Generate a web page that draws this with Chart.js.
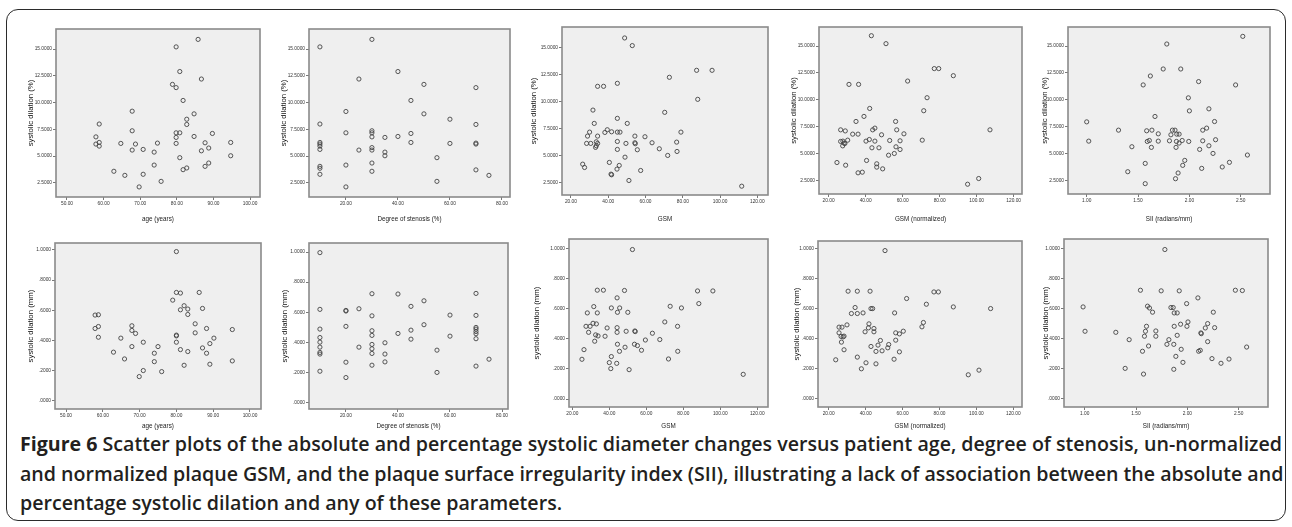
<!DOCTYPE html>
<html><head><meta charset="utf-8">
<script src="https://cdn.jsdelivr.net/npm/chart.js@4.4.1/dist/chart.umd.min.js"></script>
<style>
html,body{margin:0;padding:0;background:#fff;}
#wrap{position:relative;width:1292px;height:527px;overflow:hidden;background:#fff;}
#frame{position:absolute;left:6px;top:9px;width:1280px;height:512px;border:1.5px solid #2b2b2b;border-radius:12px;box-sizing:border-box;}
canvas{position:absolute;}
.cap{position:absolute;left:20px;white-space:nowrap;font-family:"Open Sans","Liberation Sans",sans-serif;font-weight:600;font-size:19px;line-height:22px;color:#231f20;transform-origin:0 50%;}
.cap b{font-weight:700;}
</style></head><body>
<div id="wrap">
<div id="frame"></div>
<div class="cap" id="c1" style="top:433px"><b>Figure 6</b> Scatter plots of the absolute and percentage systolic diameter changes versus patient age, degree of stenosis, un-normalized</div>
<div class="cap" id="c2" style="top:463px">and normalized plaque GSM, and the plaque surface irregularity index (SII), illustrating a lack of association between the absolute and</div>
<div class="cap" id="c3" style="top:492px">percentage systolic dilation and any of these parameters.</div>
</div>
<script>
// ---- tick values ----
const AGE_TICKS = [50,60,70,80,90,100];
const STEN_TICKS = [20,40,60,80];
const GSM_TICKS = [20,40,60,80,100,120];
const SII_TICKS = [1.0,1.5,2.0,2.5];
const PCT_TICKS = [2.5,5,7.5,10,12.5,15];
const MM_TICKS = [0,0.2,0.4,0.6,0.8,1.0];

// ---- axis titles ----
const X_TITLES = ['age (years)','Degree of stenosis (%)','GSM','GSM (normalized)','SII (radians/mm)'];
const Y_TITLES = ['systolic dilation (%)','systolic dilation (mm)'];

// ---- data: [x, y] ----
const agePct = [[79.8,15.2],[85.8,15.9],[80.8,12.9],[86.7,12.2],[78.8,11.7],[79.8,11.4],[81.7,10.2],[67.8,9.2],[84.7,8.95],[82.7,8.45],[58.8,8.0],[82.7,7.96],[67.8,7.37],[79.8,7.18],[80.8,7.18],[89.7,7.12],[57.9,6.8],[79.8,6.75],[84.7,6.84],[57.9,6.13],[58.8,6.28],[58.8,5.94],[64.7,6.19],[68.7,6.13],[74.7,6.22],[79.8,6.19],[87.7,6.25],[94.7,6.28],[67.8,5.57],[70.8,5.63],[73.8,5.38],[86.7,5.5],[88.7,5.76],[80.8,4.86],[94.7,5.04],[73.8,4.17],[87.7,4.05],[88.7,4.36],[82.7,3.9],[81.7,3.74],[62.8,3.59],[65.8,3.21],[70.8,3.31],[75.7,2.65],[69.7,2.13]];
const stenPct = [[10,15.2],[30,15.9],[40,12.9],[25,12.2],[50,11.7],[70,11.4],[45,10.2],[20,9.17],[50,8.95],[60,8.45],[10,8.0],[70,7.96],[30,7.37],[20,7.18],[30,7.18],[45,7.12],[30,6.8],[40,6.84],[35,6.75],[10,6.28],[10,6.13],[10,5.94],[45,6.28],[60,6.19],[70,6.22],[70,6.13],[30,5.8],[30,5.57],[10,5.63],[25,5.57],[35,5.38],[35,5.04],[55,4.86],[30,4.36],[20,4.17],[10,4.05],[10,3.87],[70,3.72],[30,3.59],[10,3.31],[75,3.21],[55,2.65],[20,2.13]];
const gsmPct = [[48.8,15.93],[52.9,15.22],[87.4,12.92],[95.7,12.92],[72.8,12.27],[44.9,11.71],[34.3,11.43],[37.5,11.43],[88,10.22],[70.3,9.01],[31.8,9.22],[44.9,8.45],[32.5,7.98],[50.2,7.98],[30,7.17],[39.5,7.39],[38.2,7.14],[41.8,7.2],[44.9,7.17],[46.3,7.17],[79,7.17],[28.9,6.8],[34.3,6.8],[54.3,6.8],[59.7,6.74],[28.4,6.12],[30.6,6.12],[33.6,6.27],[34.3,6.12],[33.6,5.9],[33.2,5.75],[44.9,6.3],[49.5,6.12],[54.3,6.18],[54.5,6.09],[63.5,6.18],[76.7,6.24],[44.9,5.56],[55.6,5.53],[67.4,5.62],[76.9,5.37],[49,4.84],[71.9,5.0],[40.6,4.35],[26.3,4.19],[27.3,3.88],[45.9,4.07],[44.7,3.73],[57.4,3.6],[41.5,3.26],[41.8,3.2],[51.1,2.67],[111.6,2.14]];
const gsmnPct = [[43.1,15.96],[51,15.22],[77.1,12.9],[79.5,12.9],[87.4,12.24],[62.7,11.74],[31,11.43],[36.2,11.43],[73.2,10.19],[71.4,8.98],[42.2,9.19],[39.1,8.45],[34.8,7.98],[56.2,7.98],[26.5,7.2],[29,7.1],[43.8,7.2],[45,7.36],[56.8,7.2],[107.2,7.2],[33,6.8],[35.9,6.8],[48.6,6.74],[60.7,6.83],[26.5,6.12],[27.7,6.15],[28.3,5.96],[27.6,5.71],[28.8,5.93],[30.3,6.24],[40.2,6.15],[42,6.3],[45,6.15],[53,6.21],[58.6,6.18],[70.6,6.24],[43.4,5.53],[47.2,5.53],[56.4,5.62],[58.6,5.37],[52.4,4.84],[55.5,5.0],[24.5,4.16],[29.2,3.91],[40.5,4.35],[46,4.04],[46,3.73],[49.2,3.57],[35.9,3.2],[38.2,3.26],[95.1,2.14],[101.1,2.67]];
const siiPct = [[2.52,15.9],[1.78,15.19],[1.745,12.87],[1.916,12.87],[1.62,12.22],[1.55,11.39],[2.09,11.7],[2.45,11.39],[1.99,10.19],[2.0,8.98],[2.19,9.17],[1.665,8.46],[1.0,7.96],[2.245,7.99],[1.31,7.19],[1.584,7.13],[1.635,7.19],[1.835,7.19],[1.86,7.19],[2.168,7.38],[2.13,7.19],[1.697,6.85],[1.82,6.76],[1.877,6.82],[1.9,6.82],[1.02,6.17],[1.59,6.14],[1.61,6.23],[1.697,6.17],[1.806,6.2],[1.874,6.14],[1.9,5.99],[1.93,6.23],[1.994,6.14],[2.13,6.2],[2.255,6.3],[1.44,5.65],[1.63,5.59],[1.87,5.59],[2.19,5.74],[2.1,5.4],[2.23,5.03],[2.565,4.88],[1.57,4.1],[1.955,4.38],[1.935,3.92],[2.39,4.2],[2.32,3.77],[2.12,3.64],[1.4,3.33],[1.89,3.21],[1.865,2.68],[1.57,2.22]];

const ageMm = [[80,0.989],[80,0.718],[81.1,0.714],[86.2,0.718],[79,0.667],[82.1,0.63],[81.1,0.603],[83.1,0.608],[87.1,0.612],[57.9,0.568],[58.8,0.57],[83.1,0.572],[85.1,0.51],[67.9,0.497],[58.8,0.492],[57.9,0.479],[88.2,0.479],[67.9,0.466],[68.9,0.446],[85.1,0.45],[95.2,0.472],[80,0.435],[80,0.43],[58.8,0.421],[64.9,0.415],[90.2,0.415],[71,0.388],[80,0.388],[89.1,0.379],[67.9,0.359],[75,0.359],[87.1,0.35],[81.1,0.339],[62.9,0.322],[74,0.315],[83.1,0.326],[88.2,0.315],[65.9,0.277],[74,0.259],[95.2,0.264],[82.1,0.235],[89.1,0.242],[71,0.2],[76,0.193],[69.9,0.16]];
const stenMm = [[10,0.996],[30,0.723],[40,0.721],[70,0.725],[50,0.676],[45,0.639],[25,0.623],[10,0.619],[20,0.612],[20,0.608],[30,0.576],[60,0.581],[70,0.579],[50,0.517],[20,0.506],[70,0.499],[10,0.488],[30,0.477],[45,0.481],[70,0.488],[70,0.472],[30,0.446],[40,0.459],[70,0.457],[60,0.441],[10,0.432],[45,0.421],[70,0.424],[10,0.401],[35,0.397],[30,0.386],[10,0.368],[25,0.368],[30,0.357],[55,0.348],[10,0.333],[10,0.322],[30,0.326],[35,0.322],[20,0.268],[35,0.27],[75,0.288],[30,0.248],[70,0.242],[10,0.208],[55,0.2],[20,0.166]];
const gsmMm = [[52.5,0.993],[33.5,0.723],[36.8,0.723],[48.2,0.721],[87.7,0.718],[96,0.718],[44.2,0.672],[88.4,0.634],[31.6,0.614],[72.9,0.616],[41.1,0.605],[45.6,0.605],[79,0.605],[28.1,0.572],[33.5,0.572],[44.4,0.576],[50,0.576],[70,0.512],[31.2,0.503],[33,0.499],[27.4,0.483],[29.6,0.483],[76.9,0.483],[38.8,0.472],[44.2,0.474],[28.8,0.443],[44.2,0.443],[49.1,0.45],[53.8,0.452],[54,0.448],[63.3,0.437],[32.6,0.426],[33.9,0.419],[37.7,0.417],[32.1,0.384],[59.5,0.392],[67.3,0.395],[44.4,0.364],[53.6,0.364],[55.2,0.355],[48.5,0.344],[26.3,0.328],[57.4,0.324],[45.5,0.317],[77,0.317],[41.1,0.282],[25.2,0.264],[72,0.266],[40,0.242],[44,0.237],[40.8,0.202],[50.7,0.195],[112.4,0.164]];
const gsmnMm = [[50.5,0.989],[30.5,0.718],[35.5,0.718],[42.4,0.718],[77,0.713],[79.4,0.713],[62.2,0.669],[72.9,0.631],[87.5,0.613],[107.7,0.602],[34.3,0.609],[42.9,0.602],[43.8,0.602],[32.3,0.569],[35.5,0.569],[38.6,0.573],[55.7,0.573],[71.3,0.509],[41.8,0.5],[29.9,0.493],[25.6,0.478],[27.2,0.478],[41.5,0.473],[44.5,0.469],[70.5,0.48],[25.6,0.44],[39.7,0.447],[44.5,0.447],[56.3,0.44],[58.3,0.433],[60.4,0.451],[26.7,0.416],[27.8,0.413],[28.3,0.418],[48,0.389],[56.3,0.391],[26.9,0.378],[42.9,0.349],[46.7,0.358],[52.5,0.362],[52,0.34],[28.3,0.327],[45.6,0.316],[48.9,0.32],[58.3,0.313],[35.5,0.278],[23.8,0.26],[55.4,0.264],[40.2,0.24],[45.6,0.233],[37.7,0.2],[95.6,0.16],[101.4,0.191]];
const siiMm = [[1.781,0.993],[1.543,0.722],[1.745,0.718],[1.921,0.718],[2.468,0.722],[2.536,0.72],[2.103,0.671],[1.993,0.633],[0.984,0.611],[1.612,0.616],[1.631,0.604],[1.84,0.607],[1.862,0.607],[1.661,0.576],[1.872,0.571],[1.901,0.571],[2.253,0.576],[2.006,0.511],[2.198,0.5],[1.934,0.496],[1.602,0.482],[1.872,0.482],[1.996,0.482],[2.175,0.471],[2.266,0.473],[1.003,0.449],[1.303,0.442],[1.592,0.449],[1.693,0.451],[2.132,0.438],[2.136,0.433],[1.582,0.416],[1.693,0.416],[1.901,0.422],[1.433,0.393],[1.82,0.393],[2.198,0.38],[1.801,0.362],[1.868,0.362],[1.622,0.351],[1.94,0.329],[1.563,0.316],[2.11,0.316],[2.126,0.322],[1.888,0.282],[2.24,0.267],[2.406,0.264],[2.578,0.344],[2.328,0.236],[1.957,0.242],[1.394,0.202],[1.868,0.196],[1.573,0.164]];

// ---- layout (pixels) ----
const PANELS = [
 {data:agePct,  box:[56,29,260,197],  x:[47,102.7],  y:[1.19,16.87], xt:AGE_TICKS,  yt:PCT_TICKS, xi:0, yi:0, yw:30, xh:26},
 {data:stenPct, box:[309,29,510,197], x:[5.8,83.1],  y:[1.19,16.87], xt:STEN_TICKS, yt:PCT_TICKS, xi:1, yi:0, yw:30, xh:26},
 {data:gsmPct,  box:[562,27,768,195], x:[15.2,125.7],y:[1.32,16.95], xt:GSM_TICKS,  yt:PCT_TICKS, xi:2, yi:0, yw:33, xh:28},
 {data:gsmnPct, box:[819,27,1022,194],x:[14.8,124.5],y:[1.23,16.77], xt:GSM_TICKS,  yt:PCT_TICKS, xi:3, yi:0, yw:30, xh:29},
 {data:siiPct,  box:[1068,27,1270,194],x:[0.818,2.785],y:[1.26,16.77],xt:SII_TICKS, yt:PCT_TICKS, xi:4, yi:0, yw:28, xh:29},
 {data:ageMm,   box:[55,243,261,409], x:[47,103],    y:[-0.055,1.046], xt:AGE_TICKS,  yt:MM_TICKS, xi:0, yi:1, yw:29, xh:21},
 {data:stenMm,  box:[309,243,508,409],x:[5.8,82.3],  y:[-0.043,1.06],  xt:STEN_TICKS, yt:MM_TICKS, xi:1, yi:1, yw:29, xh:21},
 {data:gsmMm,   box:[569,239,768,407],x:[18.2,125.8],y:[-0.053,1.063], xt:GSM_TICKS,  yt:MM_TICKS, xi:2, yi:1, yw:37, xh:23},
 {data:gsmnMm,  box:[818,241,1022,407],x:[14.2,124.7],y:[-0.055,1.053],xt:GSM_TICKS,  yt:MM_TICKS, xi:3, yi:1, yw:26, xh:23},
 {data:siiMm,   box:[1064,239,1268,407],x:[0.798,2.786],y:[-0.055,1.063],xt:SII_TICKS,yt:MM_TICKS, xi:4, yi:1, yw:23, xh:23}
];

const TF = '"Liberation Sans", Arial, sans-serif';
const boxPlugin = {
  id:'box',
  beforeDraw(c){const a=c.chartArea,x=c.ctx;x.save();x.fillStyle='#efefef';x.fillRect(a.left,a.top,a.right-a.left,a.bottom-a.top);x.restore();},
  afterDraw(c){const a=c.chartArea,x=c.ctx;x.save();x.strokeStyle='#8a8a8a';x.lineWidth=1.6;x.strokeRect(a.left,a.top,a.right-a.left,a.bottom-a.top);x.restore();}
};

function fmtY(v, mm){ let s=v.toFixed(4); if(mm && s.startsWith('0')) s=s.slice(1); return s; }

const wrap = document.getElementById('wrap');
PANELS.forEach(p=>{
  const [l,t,r,b] = p.box;
  const PT=4, PR=4;
  const W = p.yw + (r-l) + PR, H = PT + (b-t) + p.xh;
  const cv = document.createElement('canvas');
  cv.width=W; cv.height=H;
  cv.style.left=(l-p.yw)+'px'; cv.style.top=(t-PT)+'px';
  cv.style.width=W+'px'; cv.style.height=H+'px';
  wrap.appendChild(cv);
  const mm = p.yi===1;
  const tickCommon = {font:{size:4.8,family:TF}, color:'#333', padding:1, maxRotation:0, minRotation:0, autoSkip:false};
  const gridCommon = {drawOnChartArea:false, drawTicks:true, tickLength:3, color:'#555', lineWidth:0.8};
  new Chart(cv,{
    type:'scatter',
    data:{datasets:[{data:p.data.map(([x,y])=>({x,y})), pointRadius:2.1, pointHoverRadius:2.1, pointBorderWidth:0.9, borderColor:'#444', backgroundColor:'rgba(255,255,255,0)'}]},
    options:{
      responsive:false, animation:false, devicePixelRatio:1, events:[],
      layout:{padding:{left:0,top:PT,right:PR,bottom:0}},
      plugins:{legend:{display:false}, tooltip:{enabled:false}},
      scales:{
        x:{type:'linear', min:p.x[0], max:p.x[1],
           afterBuildTicks:ax=>{ax.ticks=p.xt.map(v=>({value:v}));},
           afterFit:s=>{s.height=p.xh;},
           ticks:Object.assign({callback:v=>Number(v).toFixed(2)},tickCommon),
           grid:gridCommon, border:{display:false},
           title:{display:true, text:X_TITLES[p.xi], font:{size:6.3,family:TF}, color:'#222', padding:0}},
        y:{type:'linear', min:p.y[0], max:p.y[1],
           afterBuildTicks:ax=>{ax.ticks=p.yt.map(v=>({value:v}));},
           afterFit:s=>{s.width=p.yw;},
           ticks:Object.assign({callback:v=>fmtY(Number(v),mm)},tickCommon),
           grid:gridCommon, border:{display:false},
           title:{display:true, text:Y_TITLES[p.yi], font:{size:7.8,family:TF}, color:'#111', padding:0}}
      }
    },
    plugins:[boxPlugin]
  });
});

// fit caption lines to reference width
(function(){
  const c1=document.getElementById('c1');
  const w=c1.getBoundingClientRect().width;
  const s=1262/w;
  ['c1','c2','c3'].forEach(id=>{document.getElementById(id).style.transform='scaleX('+s+')';});
})();
</script>
</body></html>
